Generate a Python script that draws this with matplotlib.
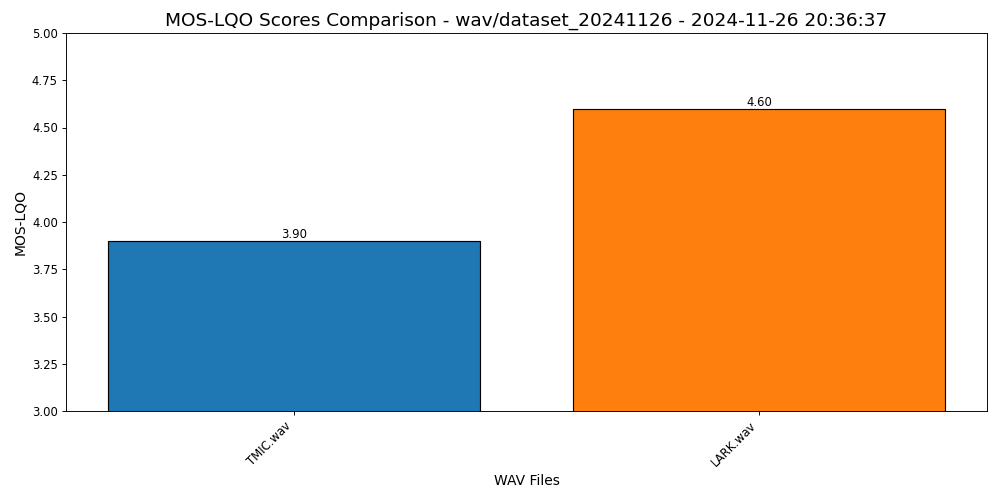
import matplotlib
matplotlib.use("Agg")
import matplotlib.pyplot as plt

# datos
archivos = ["TMIC.wav", "LARK.wav"]
puntajes = [3.90, 4.60]
colores = ["#1f77b4", "#ff7f0e"]

fig, ax = plt.subplots(figsize=(12, 6), dpi=1000 / 12)
barras = ax.bar(archivos, puntajes, color=colores, edgecolor="black")

# etiquetas de valor
for b, v in zip(barras, puntajes):
    ax.text(b.get_x() + b.get_width() / 2, v, f"{v:.2f}", ha="center", va="bottom")

ax.set_ylim(3, 5)
ax.set_title("MOS-LQO Scores Comparison - wav/dataset_20241126 - 2024-11-26 20:36:37", fontsize=16)
ax.set_xlabel("WAV Files", fontsize=12)
ax.set_ylabel("MOS-LQO", fontsize=12)
plt.xticks(rotation=45, ha="right")
plt.subplots_adjust(left=0.066, right=0.987, top=0.934, bottom=0.178)
plt.savefig("out.png", dpi=1000 / 12)
